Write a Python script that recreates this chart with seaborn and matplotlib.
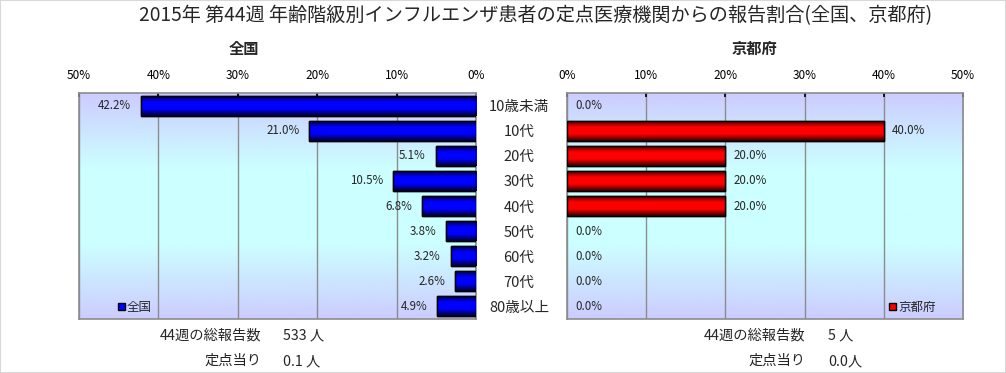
import numpy as np
import pandas as pd
import matplotlib
matplotlib.use("Agg")
import matplotlib.pyplot as plt
import seaborn as sns
from matplotlib.colors import LinearSegmentedColormap
from matplotlib.patches import Patch, Rectangle

sns.set_theme(style="white")
plt.rcParams['font.family'] = ['Noto Sans CJK JP', 'DejaVu Sans']

categories = ["10歳未満", "10代", "20代", "30代", "40代", "50代", "60代", "70代", "80歳以上"]
zenkoku = [42.2, 21.0, 5.1, 10.5, 6.8, 3.8, 3.2, 2.6, 4.9]
kyoto = [0.0, 40.0, 20.0, 20.0, 20.0, 0.0, 0.0, 0.0, 0.0]
xticks = [0, 10, 20, 30, 40, 50]
title = "2015年 第44週 年齢階級別インフルエンザ患者の定点医療機関からの報告割合(全国、京都府)"
left_notes = ["44週の総報告数", "定点当り"]
left_vals = ["533 人", "0.1 人"]
right_notes = ["44週の総報告数", "定点当り"]
right_vals = ["5 人", "0.0人"]

W, H = 1006, 373
fig = plt.figure(figsize=(W / 100, H / 100), dpi=100)
fig.patch.set_facecolor("white")
fig.add_artist(Rectangle((0, 0), 1, 1, transform=fig.transFigure, fill=False,
                         edgecolor="#d8d8d8", linewidth=1.5))

def box(x0, y0, x1, y1):
    return [x0 / W, 1 - y1 / H, (x1 - x0) / W, (y1 - y0) / H]

ax1 = fig.add_axes(box(79, 93, 476, 319))
ax2 = fig.add_axes(box(567, 93, 963, 319))

bg_cmap = LinearSegmentedColormap.from_list("bg", ["#ccccff", "#ccffff", "#ccffff", "#ccccff"])
blue_cmap = LinearSegmentedColormap.from_list("bl", ["#000028", "#0000ff", "#0000ff", "#000028"])
red_cmap = LinearSegmentedColormap.from_list("rd", ["#300000", "#ff0000", "#ff0000", "#300000"])

df1 = pd.DataFrame({"cat": categories, "val": zenkoku})
df2 = pd.DataFrame({"cat": categories, "val": kyoto})

for ax, df, color, cmap in [(ax1, df1, "#0000ff", blue_cmap), (ax2, df2, "#ff0000", red_cmap)]:
    grad = np.linspace(0, 1, 256).reshape(-1, 1)
    ax.imshow(grad, aspect="auto", cmap=bg_cmap, extent=[0, 1, 0, 1],
              transform=ax.transAxes, zorder=0)
    sns.barplot(data=df, x="val", y="cat", orient="h", ax=ax, color=color,
                edgecolor="black", linewidth=1.0, width=0.8, saturation=1, zorder=3)
    for p in ax.patches:
        if p.get_width() <= 0:
            p.set_linewidth(0)
            p.set_visible(False)
            continue
        x0, y0 = p.get_x(), p.get_y()
        x1, y1 = x0 + p.get_width(), y0 + p.get_height()
        im = ax.imshow(np.linspace(0, 1, 64).reshape(-1, 1), aspect="auto", cmap=cmap,
                       extent=[x0, x1, y1, y0], zorder=3.5, interpolation="bilinear")
        im.set_clip_path(p)
        outline = Rectangle((x0, y0), p.get_width(), p.get_height(), fill=False,
                            edgecolor="black", linewidth=1.0, zorder=4)
        ax.add_patch(outline)
    ax.set_xticks(xticks)
    ax.set_xticklabels([f"{t}%" for t in xticks])
    ax.xaxis.tick_top()
    ax.tick_params(axis="x", top=True, bottom=False, length=3, direction="in",
                   pad=8, labelsize=8.5, colors="black")
    for t in ax.xaxis.get_ticklines():
        t.set_color("#888888")
    ax.grid(axis="x", color="#8c8c8c", linewidth=1.0, zorder=1)
    ax.set_axisbelow(True)
    ax.set_xlabel("")
    ax.set_ylabel("")
    ax.set_ylim(len(categories) - 0.5, -0.5)
    for s in ax.spines.values():
        s.set_color("#8c8c8c")
        s.set_linewidth(1.2)
        s.set_visible(True)

ax1.set_xlim(50, 0)
ax2.set_xlim(0, 50)

ax1.tick_params(axis="y", left=False, labelleft=False, right=False, labelright=True,
                length=0, pad=31, labelsize=10.5)
for lab in ax1.get_yticklabels():
    lab.set_ha("center")
ax2.tick_params(axis="y", left=False, labelleft=False, length=0)

for i, v in enumerate(zenkoku):
    ax1.annotate(f"{v:.1f}%", xy=(v, i), xytext=(-7, 0), textcoords="offset points",
                 ha="right", va="center", fontsize=8.3, zorder=6)
for i, v in enumerate(kyoto):
    ax2.annotate(f"{v:.1f}%", xy=(v, i), xytext=(6, 0), textcoords="offset points",
                 ha="left", va="center", fontsize=8.3, zorder=6)

ax1.legend(handles=[Patch(facecolor="#0000ff", edgecolor="black")], labels=["全国"],
           loc="lower left", bbox_to_anchor=(0.08, -0.01), frameon=False, fontsize=9,
           handlelength=0.55, handleheight=0.55, handletextpad=0.15, borderaxespad=0.2)
ax2.legend(handles=[Patch(facecolor="#ff0000", edgecolor="black")], labels=["京都府"],
           loc="lower left", bbox_to_anchor=(0.795, -0.01), frameon=False, fontsize=9,
           handlelength=0.55, handleheight=0.55, handletextpad=0.15, borderaxespad=0.2)

fig.text(536 / W, 1 - 16 / H, title, ha="center", va="center", fontsize=13.8)
fig.text(244 / W, 1 - 49 / H, "全国", ha="center", va="center", fontsize=11, fontweight="bold")
fig.text(754 / W, 1 - 49 / H, "京都府", ha="center", va="center", fontsize=11, fontweight="bold")

for k, yy in enumerate([335, 361]):
    fig.text(261 / W, 1 - yy / H, left_notes[k], ha="right", va="center", fontsize=10.3)
    fig.text(283 / W, 1 - yy / H, left_vals[k], ha="left", va="center", fontsize=10.3)
    fig.text(805 / W, 1 - yy / H, right_notes[k], ha="right", va="center", fontsize=10.3)
    fig.text(828 / W, 1 - yy / H, right_vals[k], ha="left", va="center", fontsize=10.3)

fig.savefig("out.png", dpi=100, facecolor="white")
